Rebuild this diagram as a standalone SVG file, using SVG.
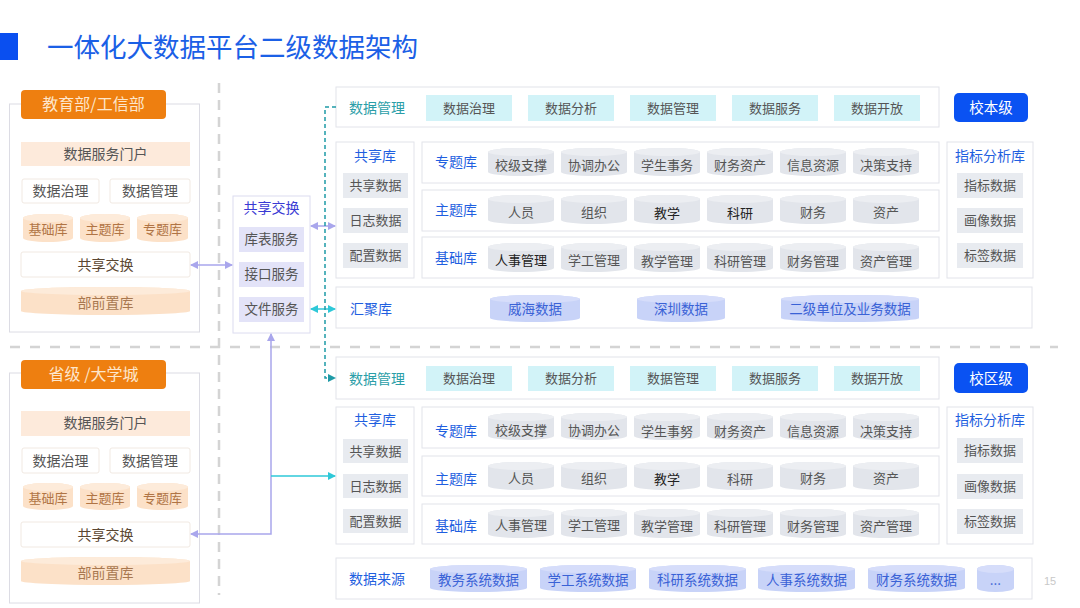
<svg xmlns="http://www.w3.org/2000/svg" width="1080" height="608" viewBox="0 0 1080 608">
<defs>
<style>
text{font-family:"Noto Sans CJK SC","Noto Sans",sans-serif;text-anchor:middle}
.box{fill:#fff;stroke:#e2e3ea;stroke-width:1}
.lbox{fill:#fff;stroke:#dcdce4;stroke-width:1}
.hdr{fill:#ee7f10}
.hdrt{fill:#fde6cc;font-size:16px}
.portal{fill:#fdeadb}
.wbox{fill:#fff;stroke:#f1e9e2;stroke-width:1}
.dk{fill:#555;font-size:14px}
.ocyl{fill:#fce1c8}
.ocylt{fill:#fdebda}
.otx{fill:#b07445;font-size:13px}
.otx2{fill:#a87850;font-size:14px}
.lav{fill:#e3e3f8}
.cyan{fill:#d2f3f8}
.gray{fill:#e8ebf0}
.gcyl{fill:#e2e5eb}
.gcylt{fill:#eceef2}
.bcyl{fill:#c8d3f8}
.bcylt{fill:#d6ddfa}
.it{fill:#555;font-size:13px}
.itd{fill:#222;font-size:13px}
.blue{fill:#1f5fe0;font-size:14px}
.btx{fill:#3a62d6;font-size:13.5px}
.teal{fill:#2b9ea8;font-size:14px}
.btn{fill:#0a52f2}
.btnt{fill:#fff;font-size:14.5px}
.sep{stroke:#d4d4d4;stroke-width:2.5;fill:none}
</style>
<marker id="aL" viewBox="0 0 8 8" refX="7" refY="4" markerWidth="8" markerHeight="8" markerUnits="userSpaceOnUse" orient="auto-start-reverse"><path d="M0,0 L8,4 L0,8 z" fill="#a9a6ec"/></marker>
<marker id="aC" viewBox="0 0 8 8" refX="7" refY="4" markerWidth="8" markerHeight="8" markerUnits="userSpaceOnUse" orient="auto-start-reverse"><path d="M0,0 L8,4 L0,8 z" fill="#2ec8d8"/></marker>
<marker id="aT" viewBox="0 0 8 8" refX="7" refY="4" markerWidth="8" markerHeight="8" markerUnits="userSpaceOnUse" orient="auto-start-reverse"><path d="M0,0 L8,4 L0,8 z" fill="#1e9aa6"/></marker>
</defs>
<rect width="1080" height="608" fill="#fff"/>

<!-- title -->
<g id="title">
<rect x="0" y="33" width="18" height="27" fill="#0a4ff0"/>
<text x="47" y="57" style="text-anchor:start;font-size:26.5px;fill:#1b60e6">一体化大数据平台二级数据架构</text>
</g>

<!-- separators -->
<g id="separators">
<line class="sep" x1="219" y1="83" x2="219" y2="595" stroke-dasharray="10 7"/>
<line class="sep" x1="10" y1="347" x2="1058" y2="347" stroke-dasharray="10 10"/>
</g>

<!-- left top panel -->
<g id="left-top">
<rect class="lbox" x="9.5" y="104" width="190" height="228"/>
<rect class="hdr" x="21" y="90" width="145" height="29" rx="4"/>
<text class="hdrt" x="93.5" y="110">教育部/工信部</text>
<rect class="portal" x="21" y="142" width="169" height="24"/>
<text class="dk" x="105.5" y="159">数据服务门户</text>
<rect class="wbox" x="22" y="179" width="77" height="24" rx="2"/>
<text class="dk" x="60.5" y="196">数据治理</text>
<rect class="wbox" x="110" y="179" width="80" height="24" rx="2"/>
<text class="dk" x="150" y="196">数据管理</text>
<path class="ocyl" d="M23,218 A25,4 0 0 1 73,218 V238 A25,4 0 0 1 23,238 Z"/><ellipse class="ocylt" cx="48" cy="218" rx="25" ry="4"/>
<text class="otx" x="48" y="234">基础库</text>
<path class="ocyl" d="M80,218 A25,4 0 0 1 130,218 V238 A25,4 0 0 1 80,238 Z"/><ellipse class="ocylt" cx="105" cy="218" rx="25" ry="4"/>
<text class="otx" x="105" y="234">主题库</text>
<path class="ocyl" d="M137,218 A25.5,4 0 0 1 188,218 V238 A25.5,4 0 0 1 137,238 Z"/><ellipse class="ocylt" cx="162.5" cy="218" rx="25.5" ry="4"/>
<text class="otx" x="162.5" y="234">专题库</text>
<rect class="wbox" x="21" y="252" width="169" height="25" rx="2"/>
<text class="dk" x="105.5" y="270" style="fill:#5a4632">共享交换</text>
<path class="ocyl" d="M21,291 A84.5,4 0 0 1 190,291 V311 A84.5,4 0 0 1 21,311 Z"/><ellipse class="ocylt" cx="105.5" cy="291" rx="84.5" ry="4"/>
<text class="otx2" x="105.5" y="308">部前置库</text>
</g>

<!-- left bottom panel -->
<g id="left-bottom">
<rect class="lbox" x="9.5" y="373" width="190" height="230"/>
<rect class="hdr" x="21" y="360" width="145" height="29" rx="4"/>
<text class="hdrt" x="93.5" y="380">省级 /大学城</text>
<rect class="portal" x="21" y="411" width="169" height="25"/>
<text class="dk" x="105.5" y="428">数据服务门户</text>
<rect class="wbox" x="22" y="448" width="77" height="25" rx="2"/>
<text class="dk" x="60.5" y="466">数据治理</text>
<rect class="wbox" x="110" y="448" width="80" height="25" rx="2"/>
<text class="dk" x="150" y="466">数据管理</text>
<path class="ocyl" d="M23,487 A25,4 0 0 1 73,487 V506 A25,4 0 0 1 23,506 Z"/><ellipse class="ocylt" cx="48" cy="487" rx="25" ry="4"/>
<text class="otx" x="48" y="503">基础库</text>
<path class="ocyl" d="M80,487 A25,4 0 0 1 130,487 V506 A25,4 0 0 1 80,506 Z"/><ellipse class="ocylt" cx="105" cy="487" rx="25" ry="4"/>
<text class="otx" x="105" y="503">主题库</text>
<path class="ocyl" d="M137,487 A25.5,4 0 0 1 188,487 V506 A25.5,4 0 0 1 137,506 Z"/><ellipse class="ocylt" cx="162.5" cy="487" rx="25.5" ry="4"/>
<text class="otx" x="162.5" y="503">专题库</text>
<rect class="wbox" x="21" y="522" width="169" height="25" rx="2"/>
<text class="dk" x="105.5" y="540" style="fill:#5a4632">共享交换</text>
<path class="ocyl" d="M21,561 A84.5,4 0 0 1 190,561 V581 A84.5,4 0 0 1 21,581 Z"/><ellipse class="ocylt" cx="105.5" cy="561" rx="84.5" ry="4"/>
<text class="otx2" x="105.5" y="578">部前置库</text>
</g>

<!-- middle exchange panel -->
<g id="exchange">
<rect x="233" y="196" width="77" height="137" fill="#fff" stroke="#dcdcf0"/>
<text x="271.5" y="213" style="fill:#3a3ad4;font-size:14px">共享交换</text>
<rect class="lav" x="239" y="227" width="65" height="25"/>
<text class="dk" x="271.5" y="244" style="font-size:13.5px">库表服务</text>
<rect class="lav" x="239" y="262" width="65" height="25"/>
<text class="dk" x="271.5" y="279" style="font-size:13.5px">接口服务</text>
<rect class="lav" x="239" y="297" width="65" height="25"/>
<text class="dk" x="271.5" y="314" style="font-size:13.5px">文件服务</text>
</g>

<!-- upper: 校本级 -->
<g id="upper-mgmt">
<rect class="box" x="336" y="87" width="603" height="40"/>
<text class="teal" x="377" y="113">数据管理</text>
<rect class="cyan" x="426" y="95" width="86" height="26"/><text class="it" x="469" y="112.5">数据治理</text>
<rect class="cyan" x="528" y="95" width="86" height="26"/><text class="it" x="571" y="112.5">数据分析</text>
<rect class="cyan" x="630" y="95" width="86" height="26"/><text class="it" x="673" y="112.5">数据管理</text>
<rect class="cyan" x="732" y="95" width="86" height="26"/><text class="it" x="775" y="112.5">数据服务</text>
<rect class="cyan" x="834" y="95" width="86" height="26"/><text class="it" x="877" y="112.5">数据开放</text>
</g>
<g id="upper-level">
<rect class="btn" x="954" y="93" width="74" height="29" rx="5"/>
<text class="btnt" x="991" y="113">校本级</text>
</g>
<g id="upper-share">
<rect class="box" x="336" y="142" width="78" height="136"/>
<text class="blue" x="375" y="161">共享库</text>
<rect class="gray" x="343" y="173" width="65" height="25"/><text class="it" x="375.5" y="190">共享数据</text>
<rect class="gray" x="343" y="208" width="65" height="25"/><text class="it" x="375.5" y="225">日志数据</text>
<rect class="gray" x="343" y="243" width="65" height="25"/><text class="it" x="375.5" y="260">配置数据</text>
</g>
<g id="upper-topic">
<rect class="box" x="422" y="142" width="517" height="41"/>
<text class="blue" x="456" y="167">专题库</text>
<path class="gcyl" d="M488,152 A33,4 0 0 1 554,152 V172 A33,4 0 0 1 488,172 Z"/><ellipse class="gcylt" cx="521" cy="152" rx="33" ry="4"/><text class="it" x="521" y="170">校级支撑</text>
<path class="gcyl" d="M561,152 A33,4 0 0 1 627,152 V172 A33,4 0 0 1 561,172 Z"/><ellipse class="gcylt" cx="594" cy="152" rx="33" ry="4"/><text class="it" x="594" y="170">协调办公</text>
<path class="gcyl" d="M634,152 A33,4 0 0 1 700,152 V172 A33,4 0 0 1 634,172 Z"/><ellipse class="gcylt" cx="667" cy="152" rx="33" ry="4"/><text class="it" x="667" y="170">学生事务</text>
<path class="gcyl" d="M707,152 A33,4 0 0 1 773,152 V172 A33,4 0 0 1 707,172 Z"/><ellipse class="gcylt" cx="740" cy="152" rx="33" ry="4"/><text class="it" x="740" y="170">财务资产</text>
<path class="gcyl" d="M780,152 A33,4 0 0 1 846,152 V172 A33,4 0 0 1 780,172 Z"/><ellipse class="gcylt" cx="813" cy="152" rx="33" ry="4"/><text class="it" x="813" y="170">信息资源</text>
<path class="gcyl" d="M853,152 A33,4 0 0 1 919,152 V172 A33,4 0 0 1 853,172 Z"/><ellipse class="gcylt" cx="886" cy="152" rx="33" ry="4"/><text class="it" x="886" y="170">决策支持</text>
</g>
<g id="upper-subject">
<rect class="box" x="422" y="190" width="517" height="41"/>
<text class="blue" x="456" y="215">主题库</text>
<path class="gcyl" d="M488,199 A33,4 0 0 1 554,199 V220 A33,4 0 0 1 488,220 Z"/><ellipse class="gcylt" cx="521" cy="199" rx="33" ry="4"/><text class="it" x="521" y="217">人员</text>
<path class="gcyl" d="M561,199 A33,4 0 0 1 627,199 V220 A33,4 0 0 1 561,220 Z"/><ellipse class="gcylt" cx="594" cy="199" rx="33" ry="4"/><text class="it" x="594" y="217">组织</text>
<path class="gcyl" d="M634,199 A33,4 0 0 1 700,199 V220 A33,4 0 0 1 634,220 Z"/><ellipse class="gcylt" cx="667" cy="199" rx="33" ry="4"/><text class="itd" x="667" y="218">教学</text>
<path class="gcyl" d="M707,199 A33,4 0 0 1 773,199 V220 A33,4 0 0 1 707,220 Z"/><ellipse class="gcylt" cx="740" cy="199" rx="33" ry="4"/><text class="itd" x="740" y="218">科研</text>
<path class="gcyl" d="M780,199 A33,4 0 0 1 846,199 V220 A33,4 0 0 1 780,220 Z"/><ellipse class="gcylt" cx="813" cy="199" rx="33" ry="4"/><text class="it" x="813" y="217">财务</text>
<path class="gcyl" d="M853,199 A33,4 0 0 1 919,199 V220 A33,4 0 0 1 853,220 Z"/><ellipse class="gcylt" cx="886" cy="199" rx="33" ry="4"/><text class="it" x="886" y="217">资产</text>
</g>
<g id="upper-base">
<rect class="box" x="422" y="237" width="517" height="41"/>
<text class="blue" x="456" y="263">基础库</text>
<path class="gcyl" d="M488,247 A33,4 0 0 1 554,247 V268 A33,4 0 0 1 488,268 Z"/><ellipse class="gcylt" cx="521" cy="247" rx="33" ry="4"/><text class="itd" x="521" y="265">人事管理</text>
<path class="gcyl" d="M561,247 A33,4 0 0 1 627,247 V268 A33,4 0 0 1 561,268 Z"/><ellipse class="gcylt" cx="594" cy="247" rx="33" ry="4"/><text class="it" x="594" y="265">学工管理</text>
<path class="gcyl" d="M634,247 A33,4 0 0 1 700,247 V268 A33,4 0 0 1 634,268 Z"/><ellipse class="gcylt" cx="667" cy="247" rx="33" ry="4"/><text class="it" x="667" y="266">教学管理</text>
<path class="gcyl" d="M707,247 A33,4 0 0 1 773,247 V268 A33,4 0 0 1 707,268 Z"/><ellipse class="gcylt" cx="740" cy="247" rx="33" ry="4"/><text class="it" x="740" y="266">科研管理</text>
<path class="gcyl" d="M780,247 A33,4 0 0 1 846,247 V268 A33,4 0 0 1 780,268 Z"/><ellipse class="gcylt" cx="813" cy="247" rx="33" ry="4"/><text class="it" x="813" y="266">财务管理</text>
<path class="gcyl" d="M853,247 A33,4 0 0 1 919,247 V268 A33,4 0 0 1 853,268 Z"/><ellipse class="gcylt" cx="886" cy="247" rx="33" ry="4"/><text class="it" x="886" y="266">资产管理</text>
</g>
<g id="upper-index">
<rect class="box" x="947" y="142" width="86" height="136"/>
<text class="blue" x="990" y="161">指标分析库</text>
<rect class="gray" x="957" y="173" width="66" height="25"/><text class="it" x="990" y="190">指标数据</text>
<rect class="gray" x="957" y="208" width="66" height="25"/><text class="it" x="990" y="225">画像数据</text>
<rect class="gray" x="957" y="243" width="66" height="25"/><text class="it" x="990" y="260">标签数据</text>
</g>
<g id="upper-gather">
<rect class="box" x="336" y="287" width="696" height="41"/>
<text class="blue" x="371" y="314">汇聚库</text>
<path class="bcyl" d="M490,299 A45,4 0 0 1 580,299 V318 A45,4 0 0 1 490,318 Z"/><ellipse class="bcylt" cx="535" cy="299" rx="45" ry="4"/><text class="btx" x="535" y="314">威海数据</text>
<path class="bcyl" d="M637,299 A44,4 0 0 1 725,299 V318 A44,4 0 0 1 637,318 Z"/><ellipse class="bcylt" cx="681" cy="299" rx="44" ry="4"/><text class="btx" x="681" y="314">深圳数据</text>
<path class="bcyl" d="M781,299 A69,4 0 0 1 919,299 V318 A69,4 0 0 1 781,318 Z"/><ellipse class="bcylt" cx="850" cy="299" rx="69" ry="4"/><text class="btx" x="850" y="314">二级单位及业务数据</text>
</g>

<!-- lower: 校区级 -->
<g id="lower-mgmt">
<rect class="box" x="336" y="357" width="603" height="42"/>
<text class="teal" x="377" y="384">数据管理</text>
<rect class="cyan" x="426" y="366" width="86" height="25"/><text class="it" x="469" y="383">数据治理</text>
<rect class="cyan" x="528" y="366" width="86" height="25"/><text class="it" x="571" y="383">数据分析</text>
<rect class="cyan" x="630" y="366" width="86" height="25"/><text class="it" x="673" y="383">数据管理</text>
<rect class="cyan" x="732" y="366" width="86" height="25"/><text class="it" x="775" y="383">数据服务</text>
<rect class="cyan" x="834" y="366" width="86" height="25"/><text class="it" x="877" y="383">数据开放</text>
</g>
<g id="lower-level">
<rect class="btn" x="954" y="363" width="74" height="30" rx="5"/>
<text class="btnt" x="991" y="383.5">校区级</text>
</g>
<g id="lower-share">
<rect class="box" x="336" y="407" width="78" height="137"/>
<text class="blue" x="375" y="425">共享库</text>
<rect class="gray" x="343" y="439" width="65" height="24"/><text class="it" x="375.5" y="456">共享数据</text>
<rect class="gray" x="343" y="474" width="65" height="24"/><text class="it" x="375.5" y="491">日志数据</text>
<rect class="gray" x="343" y="509" width="65" height="24"/><text class="it" x="375.5" y="526">配置数据</text>
</g>
<g id="lower-topic">
<rect class="box" x="422" y="407" width="517" height="41"/>
<text class="blue" x="456" y="436">专题库</text>
<path class="gcyl" d="M488,417 A33,4 0 0 1 554,417 V436 A33,4 0 0 1 488,436 Z"/><ellipse class="gcylt" cx="521" cy="417" rx="33" ry="4"/><text class="it" x="521" y="435">校级支撑</text>
<path class="gcyl" d="M561,417 A33,4 0 0 1 627,417 V436 A33,4 0 0 1 561,436 Z"/><ellipse class="gcylt" cx="594" cy="417" rx="33" ry="4"/><text class="it" x="594" y="435">协调办公</text>
<path class="gcyl" d="M634,417 A33,4 0 0 1 700,417 V436 A33,4 0 0 1 634,436 Z"/><ellipse class="gcylt" cx="667" cy="417" rx="33" ry="4"/><text class="it" x="667" y="436">学生事努</text>
<path class="gcyl" d="M707,417 A33,4 0 0 1 773,417 V436 A33,4 0 0 1 707,436 Z"/><ellipse class="gcylt" cx="740" cy="417" rx="33" ry="4"/><text class="it" x="740" y="436">财务资产</text>
<path class="gcyl" d="M780,417 A33,4 0 0 1 846,417 V436 A33,4 0 0 1 780,436 Z"/><ellipse class="gcylt" cx="813" cy="417" rx="33" ry="4"/><text class="it" x="813" y="436">信息资源</text>
<path class="gcyl" d="M853,417 A33,4 0 0 1 919,417 V436 A33,4 0 0 1 853,436 Z"/><ellipse class="gcylt" cx="886" cy="417" rx="33" ry="4"/><text class="it" x="886" y="436">决策支持</text>
</g>
<g id="lower-subject">
<rect class="box" x="422" y="456" width="517" height="40"/>
<text class="blue" x="456" y="484">主题库</text>
<path class="gcyl" d="M488,466 A33,4 0 0 1 554,466 V486 A33,4 0 0 1 488,486 Z"/><ellipse class="gcylt" cx="521" cy="466" rx="33" ry="4"/><text class="it" x="521" y="483">人员</text>
<path class="gcyl" d="M561,466 A33,4 0 0 1 627,466 V486 A33,4 0 0 1 561,486 Z"/><ellipse class="gcylt" cx="594" cy="466" rx="33" ry="4"/><text class="it" x="594" y="483">组织</text>
<path class="gcyl" d="M634,466 A33,4 0 0 1 700,466 V486 A33,4 0 0 1 634,486 Z"/><ellipse class="gcylt" cx="667" cy="466" rx="33" ry="4"/><text class="itd" x="667" y="484">教学</text>
<path class="gcyl" d="M707,466 A33,4 0 0 1 773,466 V486 A33,4 0 0 1 707,486 Z"/><ellipse class="gcylt" cx="740" cy="466" rx="33" ry="4"/><text class="it" x="740" y="484">科研</text>
<path class="gcyl" d="M780,466 A33,4 0 0 1 846,466 V486 A33,4 0 0 1 780,486 Z"/><ellipse class="gcylt" cx="813" cy="466" rx="33" ry="4"/><text class="it" x="813" y="483">财务</text>
<path class="gcyl" d="M853,466 A33,4 0 0 1 919,466 V486 A33,4 0 0 1 853,486 Z"/><ellipse class="gcylt" cx="886" cy="466" rx="33" ry="4"/><text class="it" x="886" y="483">资产</text>
</g>
<g id="lower-base">
<rect class="box" x="422" y="504" width="517" height="40"/>
<text class="blue" x="456" y="531">基础库</text>
<path class="gcyl" d="M488,513 A33,4 0 0 1 554,513 V534 A33,4 0 0 1 488,534 Z"/><ellipse class="gcylt" cx="521" cy="513" rx="33" ry="4"/><text class="it" x="521" y="530">人事管理</text>
<path class="gcyl" d="M561,513 A33,4 0 0 1 627,513 V534 A33,4 0 0 1 561,534 Z"/><ellipse class="gcylt" cx="594" cy="513" rx="33" ry="4"/><text class="it" x="594" y="530">学工管理</text>
<path class="gcyl" d="M634,513 A33,4 0 0 1 700,513 V534 A33,4 0 0 1 634,534 Z"/><ellipse class="gcylt" cx="667" cy="513" rx="33" ry="4"/><text class="it" x="667" y="531">教学管理</text>
<path class="gcyl" d="M707,513 A33,4 0 0 1 773,513 V534 A33,4 0 0 1 707,534 Z"/><ellipse class="gcylt" cx="740" cy="513" rx="33" ry="4"/><text class="it" x="740" y="531">科研管理</text>
<path class="gcyl" d="M780,513 A33,4 0 0 1 846,513 V534 A33,4 0 0 1 780,534 Z"/><ellipse class="gcylt" cx="813" cy="513" rx="33" ry="4"/><text class="it" x="813" y="531">财务管理</text>
<path class="gcyl" d="M853,513 A33,4 0 0 1 919,513 V534 A33,4 0 0 1 853,534 Z"/><ellipse class="gcylt" cx="886" cy="513" rx="33" ry="4"/><text class="it" x="886" y="531">资产管理</text>
</g>
<g id="lower-index">
<rect class="box" x="947" y="407" width="86" height="137"/>
<text class="blue" x="990" y="425">指标分析库</text>
<rect class="gray" x="957" y="438" width="66" height="25"/><text class="it" x="990" y="455">指标数据</text>
<rect class="gray" x="957" y="474" width="66" height="25"/><text class="it" x="990" y="491">画像数据</text>
<rect class="gray" x="957" y="509" width="66" height="25"/><text class="it" x="990" y="526">标签数据</text>
</g>
<g id="lower-source">
<rect class="box" x="336" y="558" width="696" height="41"/>
<text class="blue" x="377" y="584">数据来源</text>
<path class="bcyl" d="M430,569 A48.5,4 0 0 1 527,569 V588 A48.5,4 0 0 1 430,588 Z"/><ellipse class="bcylt" cx="478.5" cy="569" rx="48.5" ry="4"/><text class="btx" x="478.5" y="585">教务系统数据</text>
<path class="bcyl" d="M540,569 A48,4 0 0 1 636,569 V588 A48,4 0 0 1 540,588 Z"/><ellipse class="bcylt" cx="588" cy="569" rx="48" ry="4"/><text class="btx" x="588" y="585">学工系统数据</text>
<path class="bcyl" d="M649,569 A48.5,4 0 0 1 746,569 V588 A48.5,4 0 0 1 649,588 Z"/><ellipse class="bcylt" cx="697.5" cy="569" rx="48.5" ry="4"/><text class="btx" x="697.5" y="585">科研系统数据</text>
<path class="bcyl" d="M758,569 A48.5,4 0 0 1 855,569 V588 A48.5,4 0 0 1 758,588 Z"/><ellipse class="bcylt" cx="806.5" cy="569" rx="48.5" ry="4"/><text class="btx" x="806.5" y="585">人事系统数据</text>
<path class="bcyl" d="M868,569 A48.5,4 0 0 1 965,569 V588 A48.5,4 0 0 1 868,588 Z"/><ellipse class="bcylt" cx="916.5" cy="569" rx="48.5" ry="4"/><text class="btx" x="916.5" y="585">财务系统数据</text>
<path class="bcyl" d="M977,569 A18.5,4 0 0 1 1014,569 V588 A18.5,4 0 0 1 977,588 Z"/><ellipse class="bcylt" cx="995.5" cy="569" rx="18.5" ry="4"/><text class="btx" x="995.5" y="585">...</text>
</g>

<!-- connectors -->
<g id="connectors" fill="none" stroke-width="1.5">
<line x1="191" y1="265" x2="232" y2="265" stroke="#a9a6ec" marker-start="url(#aL)" marker-end="url(#aL)"/>
<line x1="311" y1="226" x2="335" y2="226" stroke="#a9a6ec" marker-start="url(#aL)" marker-end="url(#aL)"/>
<line x1="311" y1="309" x2="335" y2="309" stroke="#2ec8d8" marker-start="url(#aC)" marker-end="url(#aC)"/>
<polyline points="271,334 271,534 191,534" stroke="#a9a6ec" marker-start="url(#aL)" marker-end="url(#aL)"/>
<line x1="271" y1="476" x2="335" y2="476" stroke="#2ec8d8" marker-end="url(#aC)"/>
<polyline points="336,107 325,107 325,378 335,378" stroke="#1e9aa6" stroke-dasharray="4 3" marker-end="url(#aT)"/>
</g>

<text x="1050" y="585" style="fill:#c8c8c8;font-size:11px;font-family:'Liberation Sans',sans-serif">15</text>
</svg>
